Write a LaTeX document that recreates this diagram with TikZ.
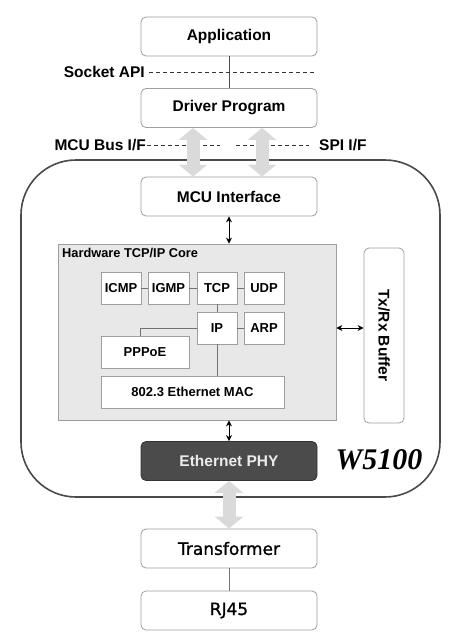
\documentclass[tikz,border=0pt]{standalone}
\usepackage{graphicx}
\usepackage{fontspec}
\setmainfont{Liberation Sans}
\newfontfamily\dvsans[FakeBold=1.2]{DejaVu Sans}
\newfontfamily\tmserif{Liberation Serif}
\usetikzlibrary{arrows.meta}
\definecolor{boxline}{HTML}{9E9E9E}
\definecolor{corefill}{HTML}{E8E8E8}
\definecolor{arrowgray}{HTML}{DADADA}
\definecolor{chipline}{HTML}{4A4A4A}
\definecolor{phyfill}{HTML}{4B4B4B}

\begin{document}
\begin{tikzpicture}[x=1pt,y=-1pt,
  box/.style={draw=boxline,rounded corners=5pt,line width=0.8pt,fill=white,minimum width=176pt,minimum height=39pt,inner sep=0pt,font=\fontsize{15.5}{18}\selectfont\bfseries},
  pbox/.style={draw=boxline,line width=0.8pt,fill=white,minimum height=32pt,inner sep=0pt,font=\fontsize{13}{15}\selectfont\bfseries},
  lbl/.style={inner sep=0pt,font=\fontsize{15.5}{18}\selectfont\bfseries},
  link/.style={draw=gray!90!black,line width=0.8pt},
  cut/.style={draw=black!80,line width=0.7pt,dash pattern=on 4pt off 3pt},
  bigarrow/.style={draw=arrowgray,line width=13pt,{Triangle[length=12pt,width=28pt]}-{Triangle[length=12pt,width=28pt]}},
  smallarrow/.style={draw=black,line width=0.9pt,{Stealth[length=6pt,width=6pt]}-{Stealth[length=6pt,width=6pt]}}]
\useasboundingbox (0,0) rectangle (459,643);
\node[box] (app) at (229,36.5) {Application};
\node[box] (drv) at (229,108) {Driver Program};
\draw[link,draw=black!70] (app) -- (drv);
\node[lbl,anchor=east] (api) at (145,72) {Socket API};
\coordinate (apiend) at (315,72);
\draw[cut] ([xshift=4pt]api.east) -- (apiend);
\node[lbl,anchor=east] (mcubus) at (146,145) {MCU Bus I/F};
\coordinate (busend) at (220,145);
\draw[cut] ([xshift=1pt]mcubus.east) -- (busend);
\node[lbl,anchor=west] (spi) at (319,145) {SPI I/F};
\coordinate (spiend) at (236,145);
\draw[cut] (spiend) -- ([xshift=-10pt]spi.west);
\node[draw=chipline,line width=1.6pt,rounded corners=55pt,minimum width=419pt,minimum height=337pt,inner sep=0pt] (chip) at (230.5,328.5) {};
\node[box] (mcu) at (229,196.5) {MCU Interface};
\draw[bigarrow] ([xshift=-36pt]drv.south) -- ([xshift=-36pt]mcu.north);
\draw[bigarrow] ([xshift=33pt]drv.south) -- ([xshift=33pt]mcu.north);
\node[draw=boxline,fill=corefill,line width=0.8pt,minimum width=278pt,minimum height=176pt,inner sep=0pt] (core) at (197,332) {};
\node[anchor=north west,inner sep=0pt,font=\fontsize{12.8}{14}\selectfont\bfseries] (corename) at (62,248) {Hardware TCP/IP Core};
\draw[smallarrow] (mcu.south) -- (mcu.south |- core.north);
\node[pbox,minimum width=40pt] (icmp) at (121,288) {ICMP};
\node[pbox,minimum width=41pt] (igmp) at (168.5,288) {IGMP};
\node[pbox,minimum width=40pt] (tcp) at (217,288) {TCP};
\node[pbox,minimum width=40pt] (udp) at (264,288) {UDP};
\node[pbox,minimum width=40pt] (ip) at (217,328) {IP};
\node[pbox,minimum width=40pt] (arp) at (264,328) {ARP};
\node[pbox,minimum width=88pt] (pppoe) at (145,352) {PPPoE};
\node[pbox,minimum width=183pt] (mac) at (192.5,392) {802.3 Ethernet MAC};
\draw[link] (icmp) -- (igmp);
\draw[link] (igmp) -- (tcp);
\draw[link] (tcp) -- (udp);
\draw[link] (tcp) -- (ip);
\draw[link] (ip) -- (arp);
\draw[link] (ip.west) -| ([xshift=-5pt]pppoe.north);
\draw[link] (ip.south) -- (ip.south |- mac.north);
\node[box,minimum width=40pt,minimum height=175pt] (buf) at (384,335.5) {\rotatebox{-90}{Tx/Rx Buffer}};
\draw[smallarrow] (core.east |- arp) -- (buf.west |- arp);
\node[box,fill=phyfill,draw=black!80,text=black!8] (phy) at (229,461) {Ethernet PHY};
\draw[smallarrow] (phy.north |- core.south) -- (phy.north);
\node[inner sep=0pt,font=\tmserif\bfseries\itshape\fontsize{30}{34}\selectfont] (chipname) at (379,460) {W5100};
\node[box,font=\dvsans\fontsize{17}{20}\selectfont] (trans) at (229,548.5) {Transformer};
\node[box,font=\dvsans\fontsize{17}{20}\selectfont] (rj) at (229,610.5) {RJ45};
\draw[bigarrow] (phy) -- (trans);
\draw[link] (trans) -- (rj);
\end{tikzpicture}
\end{document}
